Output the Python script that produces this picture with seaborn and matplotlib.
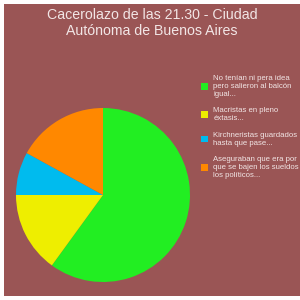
import matplotlib
matplotlib.use("Agg")
import matplotlib.pyplot as plt
import seaborn as sns

# data
labels = [
    "No tenían ni pera idea\npero salieron al balcón\nigual...",
    "Macristas en pleno\néxtasis...",
    "Kirchneristas guardados\nhasta que pase...",
    "Aseguraban que era por\nque se bajen los sueldos\nlos políticos...",
]
values = [60, 15, 8, 17]
colors = ["#22ee22", "#eeee00", "#00bbee", "#ff8800"]
title = "Cacerolazo de las 21.30 - Ciudad\nAutónoma de Buenos Aires"

sns.set_theme(style="white")
plt.rcParams['font.family'] = ['Arial', 'Liberation Sans', 'DejaVu Sans']

bg = "#9a5555"
fig = plt.figure(figsize=(3, 3), dpi=100)
fig.patch.set_facecolor("white")

# background panel, white strip on top, left and bottom only
bg_ax = fig.add_axes([4/300, 4/300, 296/300, 292/300])
bg_ax.set_facecolor(bg)
bg_ax.set_xticks([]); bg_ax.set_yticks([])
for s in bg_ax.spines.values():
    s.set_visible(False)

fig.text(152/300, 1 - 23/300, title, ha="center", va="center",
         fontsize=10.2, color="#f2e6e6", linespacing=1.2)

ax = fig.add_axes([16/300, 18/300, 174/300, 174/300])
ax.set_facecolor("none")
wedges, _ = ax.pie(values, colors=colors, startangle=90, counterclock=False,
                   wedgeprops=dict(linewidth=0))
ax.set_xlim(-1, 1); ax.set_ylim(-1, 1)
ax.set_aspect("equal")
ax.axis("off")

leg = fig.legend(wedges, labels, loc="upper left",
                 bbox_to_anchor=(194/300, 1 - 68/300), frameon=False,
                 fontsize=5.6, labelcolor="#f2e6e6", handlelength=0.9,
                 handleheight=0.9, handletextpad=0.7, labelspacing=1.2)

fig.savefig("out.png", dpi=100, facecolor=fig.get_facecolor())
